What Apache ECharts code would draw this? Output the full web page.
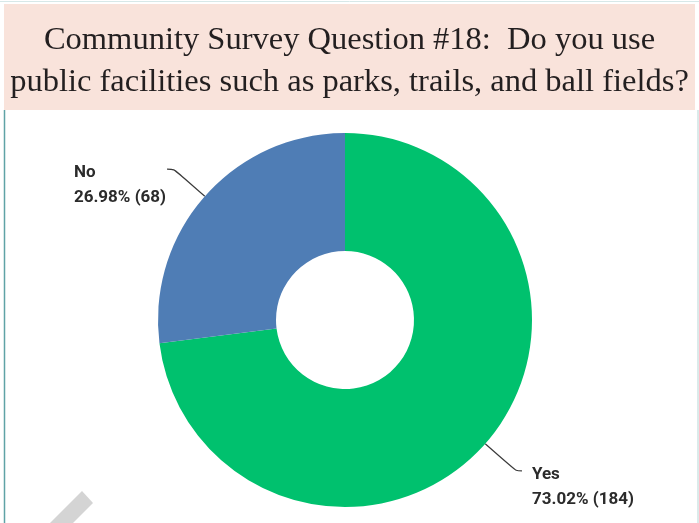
<!DOCTYPE html>
<html>
<head>
<meta charset="utf-8">
<script src="https://cdn.jsdelivr.net/npm/echarts@6/dist/echarts.min.js"></script>
<style>
html,body{margin:0;padding:0;background:#fff;}
#chart{width:699px;height:523px;}
</style>
</head>
<body>
<div id="chart"></div>
<script>
const titleText = 'Community Survey Question #18:  Do you use\npublic facilities such as parks, trails, and ball fields?';
const categories = ['Yes', 'No'];
const counts = [184, 68];
const percents = ['73.02', '26.98'];
const colors = ['#00c16e', '#4f7db5'];

const chart = echarts.init(document.getElementById('chart'), null, {renderer: 'canvas'});

const labelPer = [
  {len: 41, len2: 6, dist: 10},
  {len: 41, len2: 7, dist: 1}
];

const data = categories.map((c, i) => ({
  name: c,
  value: counts[i],
  pct: percents[i],
  itemStyle: {color: colors[i]},
  label: {distanceToLabelLine: labelPer[i].dist},
  labelLine: {length: labelPer[i].len, length2: labelPer[i].len2}
}));

chart.setOption({
  animation: false,
  backgroundColor: '#ffffff',
  title: {
    text: titleText,
    left: 'center',
    top: 14,
    textStyle: {
      fontFamily: 'Liberation Serif',
      fontWeight: 'normal',
      fontSize: 32.5,
      lineHeight: 42,
      color: '#231f20'
    }
  },
  graphic: [
    {type: 'rect', z: -10, shape: {x: 4, y: 4, width: 691, height: 106}, style: {fill: '#f9e3db'}},
    {type: 'line', z: -10, shape: {x1: 0, y1: 1.5, x2: 699, y2: 1.5}, style: {stroke: '#d7e8e8', lineWidth: 1}},
    {type: 'line', z: -10, shape: {x1: 4.5, y1: 110, x2: 4.5, y2: 523}, style: {stroke: '#5fa3a6', lineWidth: 1.5}},
    {type: 'line', z: -10, shape: {x1: 698, y1: 110, x2: 698, y2: 523}, style: {stroke: '#cfe3e3', lineWidth: 1.5}},
    {type: 'polygon', z: 10, shape: {points: [[82, 491], [93, 503], [73, 523], [50, 523]]}, style: {fill: '#d4d4d4'}}
  ],
  series: [{
    type: 'pie',
    center: [345, 320],
    radius: [69, 187],
    startAngle: 90,
    clockwise: true,
    avoidLabelOverlap: false,
    data: data,
    label: {
      show: true,
      position: 'outside',
      formatter: p => '{n|' + p.name + '}\n{v|' + p.data.pct + '% (' + p.value + ')}',
      padding: [32, 0, 0, 0],
      rich: {
        n: {fontFamily: 'Roboto', fontWeight: 'bold', fontSize: 17, lineHeight: 25, color: '#2b2b2b', align: 'left'},
        v: {fontFamily: 'Roboto', fontWeight: 'bold', fontSize: 17, lineHeight: 25, color: '#2b2b2b', align: 'left'}
      }
    },
    labelLine: {
      show: true,
      smooth: 0.3,
      lineStyle: {color: '#3a3a3a', width: 1.2}
    },
    emphasis: {disabled: true}
  }]
});
</script>
</body>
</html>
